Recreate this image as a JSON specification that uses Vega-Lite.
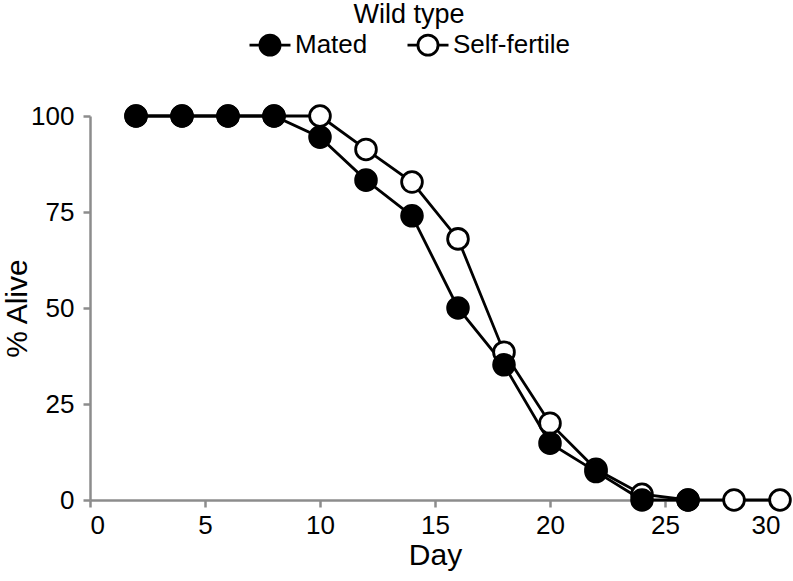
{
  "$schema": "https://vega.github.io/schema/vega-lite/v6.json",
  "width": 690,
  "height": 384,
  "autosize": {"type": "none"},
  "padding": {"left": 90, "top": 116, "right": 13, "bottom": 81},
  "background": "white",
  "config": {
    "view": {"stroke": null},
    "font": "Liberation Sans",
    "axis": {
      "domainColor": "#8c8c8c",
      "domainWidth": 2.5,
      "tickColor": "#8c8c8c",
      "tickWidth": 2.5,
      "tickSize": 7,
      "grid": false,
      "labelFont": "Liberation Sans",
      "labelFontSize": 26,
      "labelColor": "black",
      "titleFont": "Liberation Sans",
      "titleFontSize": 30,
      "titleFontWeight": "normal",
      "titleColor": "black"
    }
  },
  "data": {
    "values": [
      {"day": 2, "alive": 100, "group": "Self-fertile"},
      {"day": 4, "alive": 100, "group": "Self-fertile"},
      {"day": 6, "alive": 100, "group": "Self-fertile"},
      {"day": 8, "alive": 100, "group": "Self-fertile"},
      {"day": 10, "alive": 100, "group": "Self-fertile"},
      {"day": 12, "alive": 91.3, "group": "Self-fertile"},
      {"day": 14, "alive": 82.8, "group": "Self-fertile"},
      {"day": 16, "alive": 68, "group": "Self-fertile"},
      {"day": 18, "alive": 38.5, "group": "Self-fertile"},
      {"day": 20, "alive": 20, "group": "Self-fertile"},
      {"day": 22, "alive": 8, "group": "Self-fertile"},
      {"day": 24, "alive": 1.5, "group": "Self-fertile"},
      {"day": 26, "alive": 0, "group": "Self-fertile"},
      {"day": 28, "alive": 0, "group": "Self-fertile"},
      {"day": 30, "alive": 0, "group": "Self-fertile"},
      {"day": 2, "alive": 100, "group": "Mated"},
      {"day": 4, "alive": 100, "group": "Mated"},
      {"day": 6, "alive": 100, "group": "Mated"},
      {"day": 8, "alive": 100, "group": "Mated"},
      {"day": 10, "alive": 94.5, "group": "Mated"},
      {"day": 12, "alive": 83.3, "group": "Mated"},
      {"day": 14, "alive": 74, "group": "Mated"},
      {"day": 16, "alive": 50, "group": "Mated"},
      {"day": 18, "alive": 35.2, "group": "Mated"},
      {"day": 20, "alive": 14.8, "group": "Mated"},
      {"day": 22, "alive": 7.4, "group": "Mated"},
      {"day": 24, "alive": 0, "group": "Mated"},
      {"day": 26, "alive": 0, "group": "Mated"}
    ]
  },
  "encoding": {
    "x": {
      "field": "day",
      "type": "quantitative",
      "title": "Day",
      "scale": {"domain": [0, 30], "nice": false},
      "axis": {"values": [0, 5, 10, 15, 20, 25, 30], "labelPadding": 5, "titlePadding": 2}
    },
    "y": {
      "field": "alive",
      "type": "quantitative",
      "title": "% Alive",
      "scale": {"domain": [0, 100], "nice": false},
      "axis": {"values": [0, 25, 50, 75, 100], "labelPadding": 9, "titlePadding": -2}
    }
  },
  "layer": [
    {
      "mark": {"type": "line", "color": "black", "strokeWidth": 2.8},
      "encoding": {"detail": {"field": "group"}}
    },
    {
      "mark": {"type": "point", "shape": "circle", "filled": false, "size": 430, "stroke": "black", "strokeWidth": 2.8, "opacity": 1},
      "encoding": {
        "fill": {
          "field": "group",
          "type": "nominal",
          "scale": {"domain": ["Mated", "Self-fertile"], "range": ["black", "white"]},
          "legend": {
            "title": "Wild type",
            "orient": "none",
            "direction": "horizontal",
            "legendX": 158,
            "legendY": -114,
            "padding": 0,
            "titleAnchor": "middle",
            "titleFont": "Liberation Sans",
            "titleFontSize": 27,
            "titleFontWeight": "normal",
            "titleColor": "black",
            "titlePadding": -6,
            "labelFont": "Liberation Sans",
            "labelFontSize": 26,
            "labelColor": "black",
            "labelOffset": 3,
            "columnPadding": 33,
            "symbolType": "M-1,0H-0.49M0.49,0H1M0.49,0A0.49,0.49,0,1,1,-0.49,0A0.49,0.49,0,1,1,0.49,0Z",
            "symbolSize": 1681,
            "symbolStrokeColor": "black",
            "symbolStrokeWidth": 2.8,
            "symbolOpacity": 1
          }
        }
      }
    }
  ]
}
